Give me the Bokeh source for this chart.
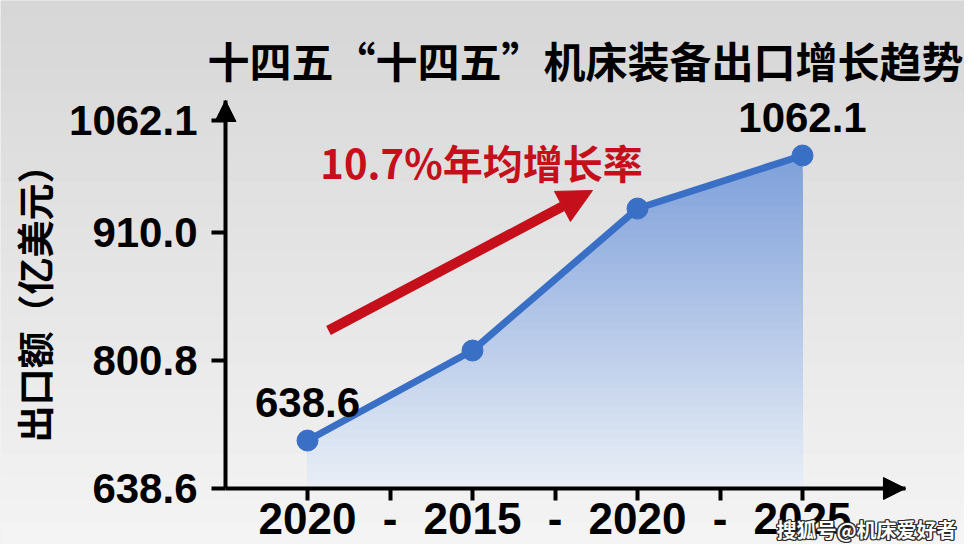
import numpy as np
from bokeh.plotting import figure
from bokeh.models import Range1d, FixedTicker, Label, Arrow, NormalHead, BoxAnnotation
from bokeh.core.properties import value
from bokeh.embed import file_html
from bokeh.resources import INLINE

# ---- data ----
title_text = "十四五“十四五”机床装备出口增长趋势"
y_axis_title = "出口额（亿美元）"
growth_text = "10.7%年均增长率"
watermark = "搜狐号@机床爱好者"

x_pos = [0, 1, 2, 3]
x_tick_pos = [0, 0.5, 1, 1.5, 2, 2.5, 3]
x_tick_labels = ["2020", "-", "2015", "-", "2020", "-", "2025"]
y_tick_pos = [638.6, 785.9, 933.2, 1062.1]
y_tick_labels = ["638.6", "800.8", "910.0", "1062.1"]
export_values = [693.8, 797.4, 960.8, 1021.8]
point_labels = ["638.6", "", "", "1062.1"]

# axis extents (data units)
x_axis_start, x_axis_end = -0.497, 3.624
y_axis_start, y_axis_end = 638.6, 1085.1

# ---- styles ----
BLUE = "#3a6fc6"
RED = "#c50f1a"
LATIN = "Liberation Sans"
CJK = "Noto Sans CJK SC"

W, H = 964, 544

p = figure(width=W, height=H, x_range=Range1d(-1.8606, 3.9818), y_range=Range1d(574.15, 1200.2),
           output_backend="svg", toolbar_location=None,
           min_border_left=0, min_border_right=0, min_border_top=0, min_border_bottom=0)
p.outline_line_color = None
p.xgrid.visible = False
p.ygrid.visible = False
p.background_fill_color = "#e6e6e6"
p.border_fill_color = "#e6e6e6"

# background vertical gradient
nb = 24
c_top = np.array([0xd7, 0xd7, 0xd7])
c_bot = np.array([0xf4, 0xf4, 0xf4])
edges = np.linspace(0, H, nb + 1)
for i in range(nb):
    t = i / (nb - 1)
    c = (c_bot * (1 - t) + c_top * t).astype(int)
    p.add_layout(BoxAnnotation(left=0, right=W, bottom=edges[i], top=edges[i + 1] + 1,
                               left_units="screen", right_units="screen",
                               bottom_units="screen", top_units="screen",
                               fill_color="#%02x%02x%02x" % tuple(c), fill_alpha=1.0,
                               line_color=None, level="underlay"))

# axes (drawn at fixed data locations)
xa = p.xaxis[0]
ya = p.yaxis[0]
xa.fixed_location = y_axis_start
ya.fixed_location = x_axis_start
xa.bounds = (x_axis_start, x_axis_end)
ya.bounds = (y_axis_start, y_axis_end)
xa.ticker = FixedTicker(ticks=x_tick_pos)
xa.major_label_overrides = {k: v for k, v in zip(x_tick_pos, x_tick_labels)}
ya.ticker = FixedTicker(ticks=y_tick_pos)
ya.major_label_overrides = {k: v for k, v in zip(y_tick_pos, y_tick_labels)}
for ax in (xa, ya):
    ax.axis_line_width = 4
    ax.axis_line_color = "black"
    ax.major_tick_line_width = 4
    ax.major_tick_line_color = "black"
    ax.major_tick_in = 0
    ax.minor_tick_line_color = None
    ax.major_label_text_font = LATIN
    ax.major_label_text_font_style = "bold"
    ax.major_label_text_color = "black"
xa.major_tick_out = 12
xa.major_label_text_font_size = "44px"
xa.major_label_standoff = 3
ya.major_tick_out = 14
ya.major_label_text_font_size = "42px"
ya.major_label_standoff = 14
ya.axis_label = y_axis_title
ya.axis_label_text_font = CJK
ya.axis_label_text_font_size = "37px"
ya.axis_label_text_font_style = "bold"
ya.axis_label_text_color = "black"
ya.axis_label_standoff = 5

# axis arrow heads
p.add_layout(Arrow(end=NormalHead(size=21, fill_color="black", line_color="black", line_width=1),
                   x_start=x_axis_start, y_start=y_axis_end - 20, x_end=x_axis_start, y_end=y_axis_end,
                   line_width=4, line_color="black"))
p.add_layout(Arrow(end=NormalHead(size=22, fill_color="black", line_color="black", line_width=1),
                   x_start=x_axis_end - 0.1, y_start=y_axis_start, x_end=x_axis_end, y_end=y_axis_start,
                   line_width=4, line_color="black"))

# gradient area under the line
xd = np.linspace(x_pos[0], x_pos[-1], 601)
yd = np.interp(xd, x_pos, export_values)
base = y_axis_start
top = max(export_values)
ng = 40
g_top = np.array([0x7f, 0xa1, 0xdb])
g_bot = np.array([0xe9, 0xee, 0xf6])
levels = np.linspace(base, top, ng + 1)[1:]
for k in range(ng - 1, -1, -1):
    t = k / (ng - 1)
    c = (g_bot * (1 - t) + g_top * t).astype(int)
    p.varea(x=xd, y1=base, y2=np.minimum(yd, levels[k]), fill_color="#%02x%02x%02x" % tuple(c))

# line and points
p.line(x_pos, export_values, line_width=7, line_color=BLUE, line_join="round")
p.scatter(x_pos, export_values, size=21, fill_color=BLUE, line_color=BLUE)
p.text(x=x_pos, y=export_values, text=point_labels, text_align="center", text_baseline="middle",
       y_offset=-38, text_font=value(LATIN), text_font_style="bold", text_font_size="42px",
       text_color="black")

# growth annotation
p.add_layout(Arrow(end=NormalHead(size=34, fill_color=RED, line_color=RED, line_width=1),
                   x_start=328, y_start=214, x_end=592, y_end=354,
                   start_units="screen", end_units="screen", line_width=10, line_color=RED))
p.add_layout(Label(x=481, y=383, x_units="screen", y_units="screen", text=growth_text,
                   text_align="center", text_baseline="middle", text_font=CJK,
                   text_font_style="bold", text_font_size="40px", text_color=RED))

# title
p.add_layout(Label(x=585, y=485, x_units="screen", y_units="screen", text=title_text,
                   text_align="center", text_baseline="middle", text_font=CJK,
                   text_font_style="bold", text_font_size="42px", text_color="black"))

# watermark
WX, WY = 866, 15
for dx, dy in [(-1.2, 0), (1.2, 0), (0, -1.2), (0, 1.2), (-1, -1), (1, 1), (-1, 1), (1, -1)]:
    p.add_layout(Label(x=WX + dx, y=WY + dy, x_units="screen", y_units="screen", text=watermark,
                       text_align="center", text_baseline="middle", text_font=CJK,
                       text_font_style="bold", text_font_size="20px", text_color="#2a2a2a"))
p.add_layout(Label(x=WX, y=WY, x_units="screen", y_units="screen", text=watermark,
                   text_align="center", text_baseline="middle", text_font=CJK,
                   text_font_style="bold", text_font_size="20px", text_color="white"))

open("out.html", "w").write(file_html(p, INLINE))
